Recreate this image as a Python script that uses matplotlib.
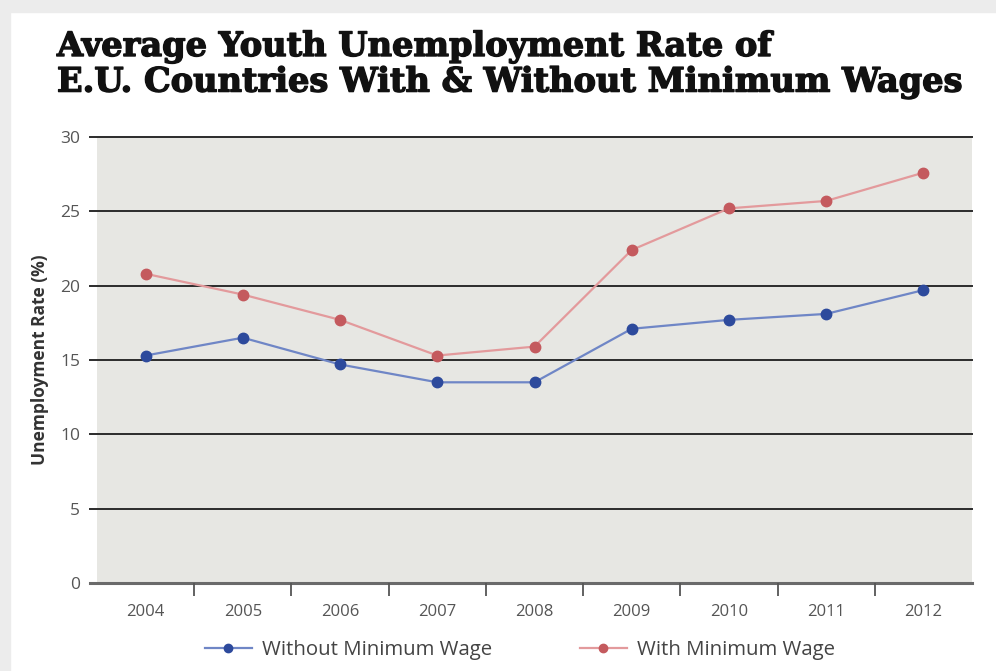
import matplotlib
matplotlib.use("Agg")
import matplotlib.pyplot as plt
import matplotlib.patheffects as pe
from matplotlib.lines import Line2D
import numpy as np

years = ["2004", "2005", "2006", "2007", "2008", "2009", "2010", "2011", "2012"]
without_min_wage = [15.3, 16.5, 14.7, 13.5, 13.5, 17.1, 17.7, 18.1, 19.7]
with_min_wage = [20.8, 19.4, 17.7, 15.3, 15.9, 22.4, 25.2, 25.7, 27.6]
y_ticks = [0, 5, 10, 15, 20, 25, 30]

title = "Average Youth Unemployment Rate of\nE.U. Countries With & Without Minimum Wages"

fig = plt.figure(figsize=(9.96, 6.71), dpi=100)
fig.patch.set_facecolor("white")

# light screenshot frame at top/left
fig.add_artist(plt.Rectangle((0, 1 - 12/671), 1, 12/671, transform=fig.transFigure,
                             color="#ececec", zorder=0))
fig.add_artist(plt.Rectangle((0, 0), 10/996, 1, transform=fig.transFigure,
                             color="#ececec", zorder=0))

L, R, T, B = 97, 972, 137, 583
ax = fig.add_axes([L/996, 1 - B/671, (R - L)/996, (B - T)/671])
ax.set_facecolor("#e7e7e3")

x = np.arange(len(years))
ax.set_xlim(-0.5, len(years) - 0.5)
ax.set_ylim(0, 30)

ext = 7 / (R - L)
for yv in y_ticks[1:]:
    ax.axhline(yv, xmin=-ext, xmax=1.0, color="#2b2b2b", lw=1.4, zorder=1, clip_on=False)
ax.axhline(0, xmin=-ext, xmax=1.0, color="#6a6a6a", lw=2.2, zorder=1, clip_on=False)

ax.plot(x, without_min_wage, color="#6f86c6", lw=1.6, zorder=3)
ax.plot(x, without_min_wage, ls="none", marker="o", ms=7.5, color="#2d4a9c", zorder=4)
ax.plot(x, with_min_wage, color="#e39a9c", lw=1.6, zorder=3)
ax.plot(x, with_min_wage, ls="none", marker="o", ms=7.5, color="#c45a5e", zorder=4)

for s in ["top", "right", "left", "bottom"]:
    ax.spines[s].set_visible(False)

ax.set_yticks(y_ticks)
ax.set_yticklabels([str(v) for v in y_ticks], fontfamily="Open Sans", fontsize=12.5, color="#555555")
ax.tick_params(axis="y", length=0, pad=12)

ax.set_xticks(x)
ax.set_xticklabels(years, fontfamily="Open Sans", fontsize=12, color="#555555")
ax.tick_params(axis="x", length=0, pad=15)
ax.set_xticks(np.arange(0.5, len(years) - 1, 1), minor=True)
ax.tick_params(axis="x", which="minor", length=9, width=1.3, color="#555555", direction="out")

ax.set_ylabel("Unemployment Rate (%)", fontfamily="Open Sans", fontweight="bold",
              fontsize=12.5, color="#333333", labelpad=8)

fig.text(57/996, 1 - 30/671, title, ha="left", va="top", fontfamily="DejaVu Serif",
         fontweight="bold", fontsize=24.2, color="#111111", linespacing=1.1,
         path_effects=[pe.withStroke(linewidth=1.0, foreground="#111111")])

handles = [
    Line2D([], [], color="#6f86c6", lw=1.6, marker="o", ms=6, mfc="#2d4a9c", mec="#2d4a9c"),
    Line2D([], [], color="#e39a9c", lw=1.6, marker="o", ms=6, mfc="#c45a5e", mec="#c45a5e"),
]
fig.legend(handles, ["Without Minimum Wage", "With Minimum Wage"], loc="center",
           bbox_to_anchor=(520/996, 1 - 650/671), ncol=2, frameon=False,
           prop={"family": "Open Sans", "size": 14.7}, handlelength=2.3, handletextpad=0.5,
           columnspacing=4.3, labelcolor="#444444")

fig.savefig("out.png", dpi=100, facecolor="white")
